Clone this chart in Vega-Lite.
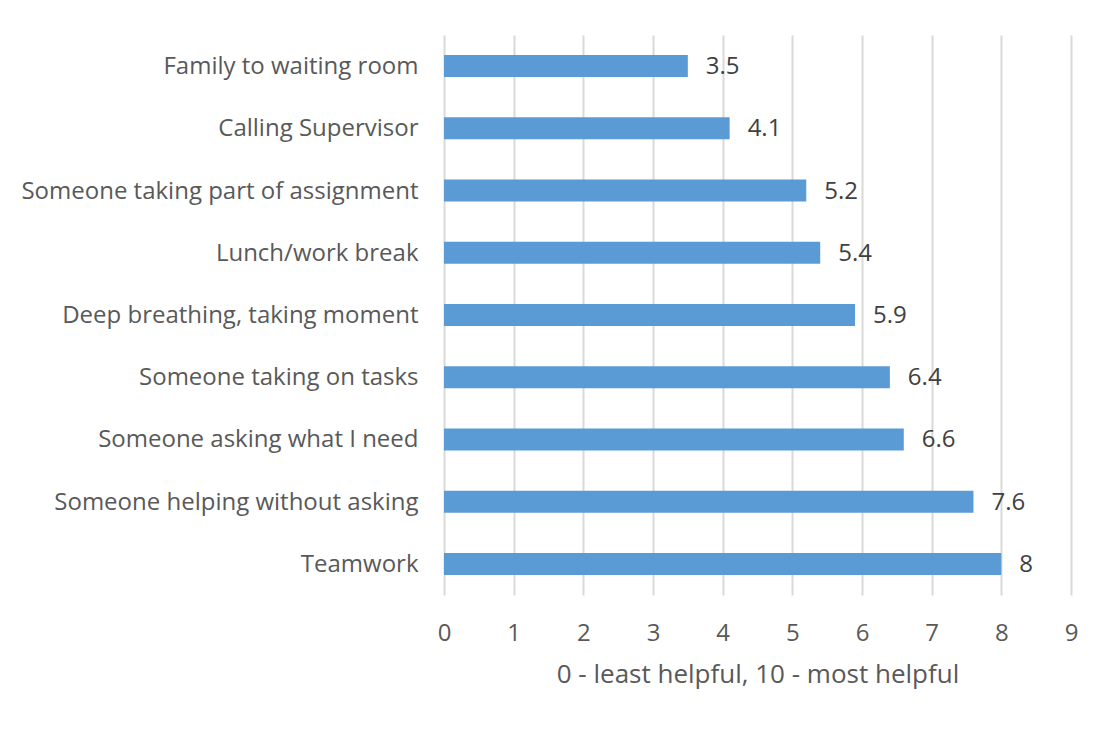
{
  "$schema": "https://vega.github.io/schema/vega-lite/v6.json",
  "autosize": "none",
  "width": 627,
  "height": 560,
  "padding": {"left": 444, "top": 35, "right": 41, "bottom": 137},
  "background": "white",
  "config": {
    "view": {"stroke": null},
    "font": "Open Sans"
  },
  "data": {
    "values": [
      {"item": "Family to waiting room", "score": 3.5},
      {"item": "Calling Supervisor", "score": 4.1},
      {"item": "Someone taking part of assignment", "score": 5.2},
      {"item": "Lunch/work break", "score": 5.4},
      {"item": "Deep breathing, taking moment", "score": 5.9},
      {"item": "Someone taking on tasks", "score": 6.4},
      {"item": "Someone asking what I need", "score": 6.6},
      {"item": "Someone helping without asking", "score": 7.6},
      {"item": "Teamwork", "score": 8}
    ]
  },
  "encoding": {
    "y": {
      "field": "item",
      "type": "nominal",
      "sort": null,
      "scale": {"paddingInner": 0.646, "paddingOuter": 0.323},
      "axis": {
        "title": null,
        "domain": false,
        "ticks": false,
        "labelFontSize": 24,
        "labelColor": "#595959",
        "labelPadding": 26,
        "labelLimit": 500,
        "labelOffset": 1
      }
    },
    "x": {
      "field": "score",
      "type": "quantitative",
      "scale": {"domain": [0, 9], "nice": false},
      "axis": {
        "values": [0, 1, 2, 3, 4, 5, 6, 7, 8, 9],
        "title": "0 - least helpful, 10 - most helpful",
        "titleFontSize": 26,
        "titleFontWeight": "normal",
        "titleColor": "#595959",
        "titlePadding": 16,
        "labelFontSize": 24,
        "labelColor": "#595959",
        "labelPadding": 26,
        "labelFlush": false,
        "domain": false,
        "ticks": false,
        "grid": true,
        "gridColor": "#d9d9d9",
        "gridWidth": 2
      }
    }
  },
  "layer": [
    {"mark": {"type": "bar", "color": "#5b9bd5"}},
    {
      "mark": {"type": "text", "align": "left", "dx": 18, "dy": 1, "fontSize": 24, "color": "#404040"},
      "encoding": {"text": {"field": "score", "type": "quantitative"}}
    }
  ]
}
